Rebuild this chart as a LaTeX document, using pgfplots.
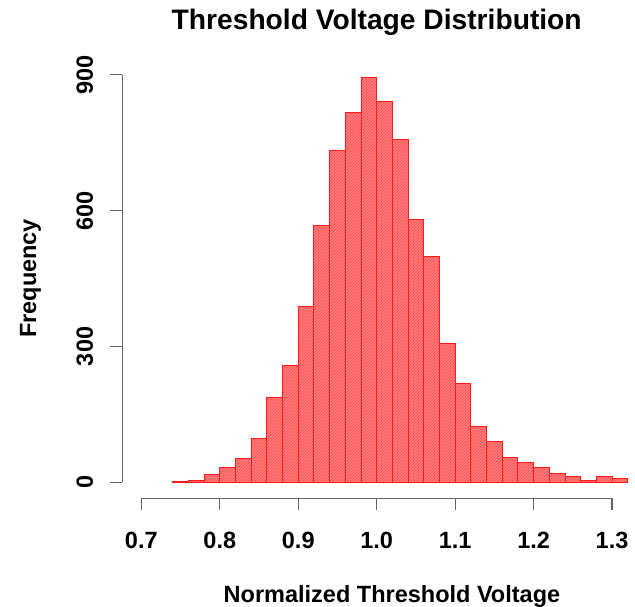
\documentclass[border=0pt]{standalone}
\usepackage{fontspec}
\setmainfont{Liberation Sans}
\usepackage{pgfplots}
\pgfplotsset{compat=1.18}
\usetikzlibrary{patterns}
\definecolor{barfill}{RGB}{255,128,128}
\definecolor{barline}{RGB}{255,25,25}
\definecolor{hatch}{RGB}{255,70,70}
\definecolor{axgray}{RGB}{100,100,100}
\begin{document}
\begin{tikzpicture}
\path[use as bounding box] (-122.5pt,-108.5pt) rectangle (512.5pt,498.5pt);
\begin{axis}[
  at={(0pt,0pt)}, anchor=south west,
  scale only axis, width=508.4pt, height=440pt,
  xmin=0.676, xmax=1.324, ymin=-36, ymax=936,
  axis lines*=left,
  axis line style={draw=none},
  tick align=outside,
  major tick length=12pt,
  every tick/.style={axgray, line width=1.3pt},
  xtick={0.7,0.8,0.9,1.0,1.1,1.2,1.3},
  xticklabels={0.7,0.8,0.9,1.0,1.1,1.2,1.3},
  ytick={0,300,600,900},
  yticklabels={0,300,600,900},
  minor tick num=0,
  tick label style={font=\bfseries\fontsize{23.5}{28}\selectfont, text=black},
  xticklabel style={anchor=base, inner sep=0pt, yshift=-38.5pt},
  yticklabel style={xshift=-17.5pt, rotate=90, anchor=base, inner sep=0pt},
  title={Threshold Voltage Distribution},
  title style={at={(axis description cs:0.5,1.0534)}, anchor=base, inner sep=0pt,
    font=\bfseries\fontsize{28.2}{34}\selectfont},
  xlabel={Normalized Threshold Voltage},
  xlabel style={at={(axis description cs:0.530,-0.2375)}, anchor=base, inner sep=0pt,
    font=\bfseries\fontsize{23.5}{28}\selectfont},
  ylabel={Frequency},
  ylabel style={at={(axis description cs:-0.1701,0.5)}, rotate=0, anchor=base, inner sep=0pt,
    font=\bfseries\fontsize{23.5}{28}\selectfont},
  clip=false,
]
\addplot[ybar interval, draw=barline, line width=1.0pt, fill=barfill,
  postaction={pattern=north east lines, pattern color=hatch}]
  coordinates {
  (0.74,2) (0.76,3) (0.78,18) (0.80,32) (0.82,52) (0.84,97) (0.86,187)
  (0.88,257) (0.90,388) (0.92,568) (0.94,732) (0.96,816) (0.98,893)
  (1.00,842) (1.02,757) (1.04,580) (1.06,498) (1.08,307) (1.10,217)
  (1.12,124) (1.14,90) (1.16,55) (1.18,43) (1.20,33) (1.22,19)
  (1.24,13) (1.26,3) (1.28,12) (1.30,8) (1.32,8)
  };
\draw[axgray, line width=1.3pt] (axis cs:0.7,-36) -- (axis cs:1.3,-36);
\draw[axgray, line width=1.3pt] (axis cs:0.676,0) -- (axis cs:0.676,900);
\end{axis}
\end{tikzpicture}
\end{document}
